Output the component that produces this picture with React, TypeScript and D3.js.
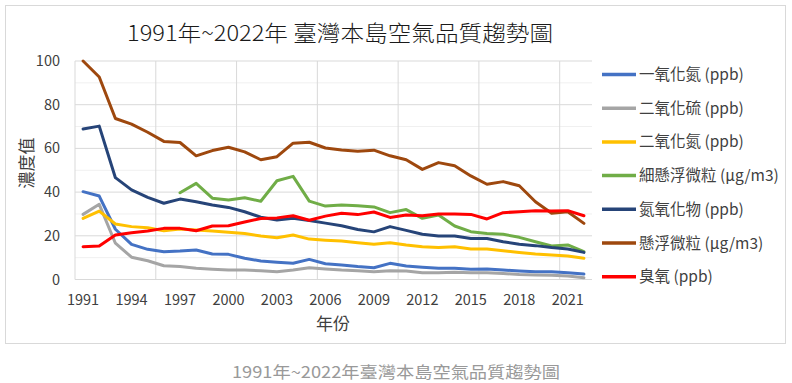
import React from "react";
import * as d3 from "d3";

const years = d3.range(1991, 2023);
const tickYears = [1991, 1994, 1997, 2000, 2003, 2006, 2009, 2012, 2015, 2018, 2021];
const yTicks = [0, 20, 40, 60, 80, 100];

const seriesNames = [
  "一氧化氮 (ppb)",
  "二氧化硫 (ppb)",
  "二氧化氮 (ppb)",
  "細懸浮微粒 (μg/m3)",
  "氮氧化物 (ppb)",
  "懸浮微粒 (μg/m3)",
  "臭氧 (ppb)",
];
const seriesColors = ["#4472C4", "#A5A5A5", "#FFC000", "#70AD47", "#264478", "#9E480E", "#FF0000"];

const no = [40.2, 38.2, 23, 16.1, 13.8, 12.7, 13, 13.5, 11.7, 11.5, 9.7, 8.5, 7.9, 7.4, 9.2, 7.2, 6.6, 5.9, 5.4, 7.4, 6.2, 5.6, 5.1, 5.1, 4.7, 4.8, 4.3, 3.9, 3.6, 3.6, 3.1, 2.5];
const so2 = [29.8, 34.4, 16.6, 10.2, 8.6, 6.3, 5.9, 5.1, 4.7, 4.3, 4.3, 4.0, 3.6, 4.3, 5.4, 4.8, 4.3, 4.0, 3.6, 4.0, 3.9, 3.1, 3.1, 3.3, 3.1, 3.1, 2.7, 2.3, 2.1, 2.0, 1.6, 0.8];
const no2 = [28, 31.3, 25.4, 24.2, 23.7, 22.3, 23.1, 22.7, 22.2, 21.6, 21.1, 19.9, 19.1, 20.4, 18.5, 18.0, 17.6, 16.8, 16.1, 16.8, 15.8, 15.0, 14.7, 15.0, 14.0, 14.0, 13.2, 12.4, 11.7, 11.2, 10.8, 9.7];
const pm25 = [null, null, null, null, null, null, 39.7, 44, 37.2, 36.4, 37.4, 35.8, 45.2, 47.2, 35.9, 33.6, 34.1, 33.7, 33.2, 30.6, 32.0, 28.0, 29.5, 24.5, 21.9, 21.1, 20.7, 19.3, 17.3, 15.3, 15.8, 12.7];
const nox = [68.9, 70.2, 46.6, 41, 37.6, 34.9, 36.8, 35.6, 34.1, 33, 31, 28.5, 27.2, 28, 27, 25.8, 24.6, 22.9, 21.8, 24.2, 22.5, 20.7, 19.9, 19.9, 18.8, 18.8, 17.3, 16.1, 15.5, 14.6, 14, 12.4];
const pm10 = [100, 92.7, 73.7, 71.1, 67.4, 63.2, 62.7, 56.6, 59, 60.5, 58.4, 54.8, 56.2, 62.4, 62.8, 60.2, 59.3, 58.7, 59.2, 56.6, 54.8, 50.4, 53.5, 52.1, 47.4, 43.6, 44.8, 42.9, 35.6, 30.3, 31, 25.7];
const o3 = [15, 15.3, 20.4, 21.4, 22.2, 23.4, 23.4, 22.3, 24.5, 24.6, 26.3, 27.9, 28.2, 29.2, 27.1, 29.0, 30.3, 29.7, 30.9, 28.4, 29.5, 29.2, 30, 30, 29.8, 27.7, 30.6, 31, 31.5, 31.3, 31.5, 29.2];

const seriesValues: (number | null)[][] = [no, so2, no2, pm25, nox, pm10, o3];

const FONT = "'Noto Sans CJK TC', 'Noto Sans CJK SC', 'Noto Sans', sans-serif";

export default function App() {
  const W = 792, H = 383;
  const left = 75, right = 592, top = 61, bottom = 279.5;
  const x = d3.scaleBand<number>().domain(years).range([left, right]).padding(0);
  const bw = x.bandwidth();
  const cx = (yr: number) => (x(yr) as number) + bw / 2;
  const y = d3.scaleLinear().domain([0, 100]).range([bottom, top]);

  const line = d3
    .line<{ yr: number; v: number | null }>()
    .defined((d) => d.v !== null)
    .x((d) => cx(d.yr))
    .y((d) => y(d.v as number));

  const minorTicks = d3.range(10, 100, 20);
  const vGrid = years.filter((yr) => (yr - 1991) % 5 === 0 && yr !== 1991);

  const legendY0 = 74.5, legendStep = 33.7;

  return (
    <svg width={W} height={H} style={{ position: "absolute", left: 0, top: 0, fontFamily: FONT }}>
      <rect x={0} y={0} width={W} height={H} fill="#fff" />
      <rect x={5.5} y={5.5} width={780} height={338} fill="#fff" stroke="#d9d9d9" strokeWidth={1} />
      <text x={340} y={41} textAnchor="middle" fontSize={22} fontWeight={300} fill="#1a1a1a" textLength={426} lengthAdjust="spacingAndGlyphs">
        1991年~2022年 臺灣本島空氣品質趨勢圖
      </text>

      {minorTicks.map((t) => (
        <line key={"m" + t} x1={left} x2={right} y1={y(t)} y2={y(t)} stroke="#f0f0f0" strokeWidth={1} />
      ))}
      {yTicks.filter((t) => t > 0).map((t) => (
        <line key={"g" + t} x1={left} x2={right} y1={y(t)} y2={y(t)} stroke="#d9d9d9" strokeWidth={1} />
      ))}
      {vGrid.map((yr) => (
        <line key={"v" + yr} x1={x(yr)} x2={x(yr)} y1={top} y2={bottom} stroke="#d9d9d9" strokeWidth={1} />
      ))}
      <line x1={left} x2={left} y1={top} y2={bottom} stroke="#d9d9d9" strokeWidth={1} />
      <line x1={left} x2={right} y1={bottom} y2={bottom} stroke="#d9d9d9" strokeWidth={1} />

      {yTicks.map((t) => (
        <text key={"yt" + t} x={60} y={y(t) + 5} textAnchor="end" fontSize={14.5} fill="#404040">
          {t}
        </text>
      ))}
      <text transform={`translate(33,163) rotate(-90)`} textAnchor="middle" fontSize={17} fill="#404040">
        濃度值
      </text>

      {tickYears.map((yr) => (
        <text key={"xt" + yr} x={cx(yr)} y={305} textAnchor="middle" fontSize={14.5} fill="#404040">
          {yr}
        </text>
      ))}
      <text x={333} y={330} textAnchor="middle" fontSize={17} fill="#404040">
        年份
      </text>

      {seriesValues.map((vals, i) => (
        <path
          key={"s" + i}
          d={line(years.map((yr, j) => ({ yr, v: vals[j] }))) || ""}
          fill="none"
          stroke={seriesColors[i]}
          strokeWidth={3}
          strokeLinejoin="round"
          strokeLinecap="round"
        />
      ))}

      {seriesNames.map((name, i) => (
        <g key={"l" + i}>
          <line x1={602} x2={636} y1={legendY0 + i * legendStep} y2={legendY0 + i * legendStep} stroke={seriesColors[i]} strokeWidth={3.5} />
          <text x={639} y={legendY0 + i * legendStep + 5.5} fontSize={15.5} fill="#404040">
            {name}
          </text>
        </g>
      ))}

      <text x={396} y={378} textAnchor="middle" fontSize={16} fill="#999" textLength={328} lengthAdjust="spacingAndGlyphs">
        1991年~2022年臺灣本島空氣品質趨勢圖
      </text>
    </svg>
  );
}
